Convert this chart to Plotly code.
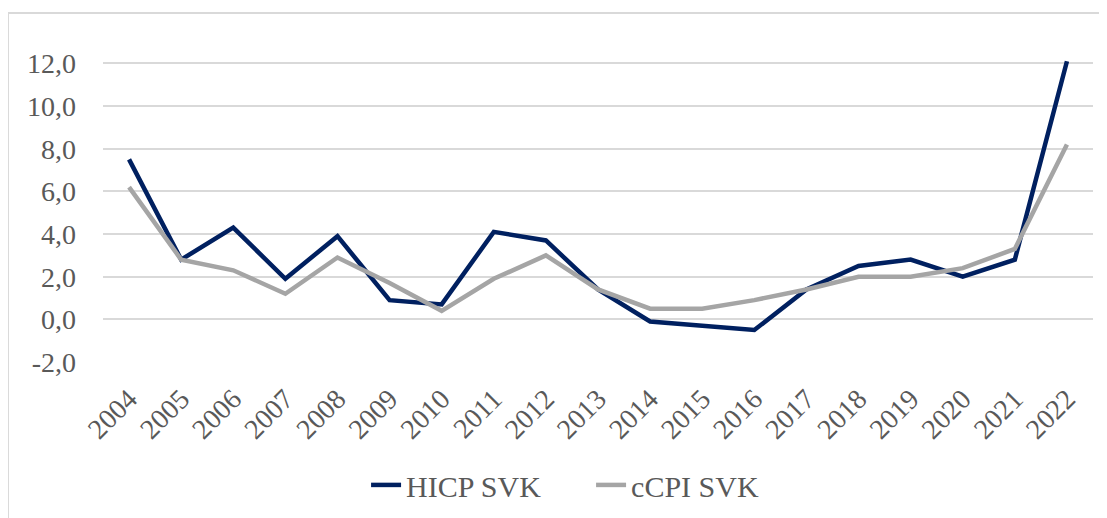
import plotly.graph_objects as go

# Data
years = [str(y) for y in range(2004, 2023)]
hicp_svk = [7.5, 2.8, 4.3, 1.9, 3.9, 0.9, 0.7, 4.1, 3.7, 1.4,
            -0.1, -0.3, -0.5, 1.4, 2.5, 2.8, 2.0, 2.8, 12.1]
ccpi_svk = [6.2, 2.8, 2.3, 1.2, 2.9, 1.7, 0.4, 1.9, 3.0, 1.4,
            0.5, 0.5, 0.9, 1.4, 2.0, 2.0, 2.4, 3.3, 8.2]
y_ticks = [-2, 0, 2, 4, 6, 8, 10, 12]
y_tick_labels = ['-2,0', '0,0', '2,0', '4,0', '6,0', '8,0', '10,0', '12,0']

font_family = 'Liberation Serif, Times New Roman, serif'
text_grey = '#595959'

fig = go.Figure()

fig.add_trace(go.Scatter(
    x=years, y=hicp_svk, name='HICP SVK', mode='lines',
    line=dict(color='#002060', width=4.5)
))
fig.add_trace(go.Scatter(
    x=years, y=ccpi_svk, name='cCPI SVK', mode='lines',
    line=dict(color='#A5A5A5', width=4.5)
))

# light outer chart border (Excel style), partly cut off at right/bottom
fig.add_shape(
    type='rect', xref='paper', yref='paper',
    x0=-0.096, x1=1.04, y0=-0.6, y1=1.144,
    line=dict(color='#D9D9D9', width=2), fillcolor='rgba(0,0,0,0)',
    layer='below'
)

# page body adds an 8px offset, margins compensate for it
fig.update_layout(
    width=1107, height=518,
    margin=dict(l=95, r=22, t=49, b=164),
    paper_bgcolor='white', plot_bgcolor='white',
    font=dict(family=font_family, size=28, color=text_grey),
    showlegend=True,
    legend=dict(
        orientation='h', x=0.493, y=-0.403,
        xanchor='center', yanchor='middle',
        font=dict(family=font_family, size=30, color=text_grey),
        bgcolor='rgba(0,0,0,0)', entrywidth=180
    ),
    xaxis=dict(
        type='category', range=[-0.5, 18.5], automargin=False,
        showgrid=False, showline=False, zeroline=False,
        tickangle=-45, ticks='', ticklabelstandoff=14,
        tickfont=dict(family=font_family, size=28, color=text_grey)
    ),
    yaxis=dict(
        range=[-2, 12.3], automargin=False,
        tickvals=y_ticks, ticktext=y_tick_labels,
        showgrid=True, gridcolor='#D9D9D9', gridwidth=2,
        zeroline=False, showline=False, ticks='',
        ticklabelstandoff=26,
        tickfont=dict(family=font_family, size=28, color=text_grey)
    )
)

fig.write_html('out.html')
